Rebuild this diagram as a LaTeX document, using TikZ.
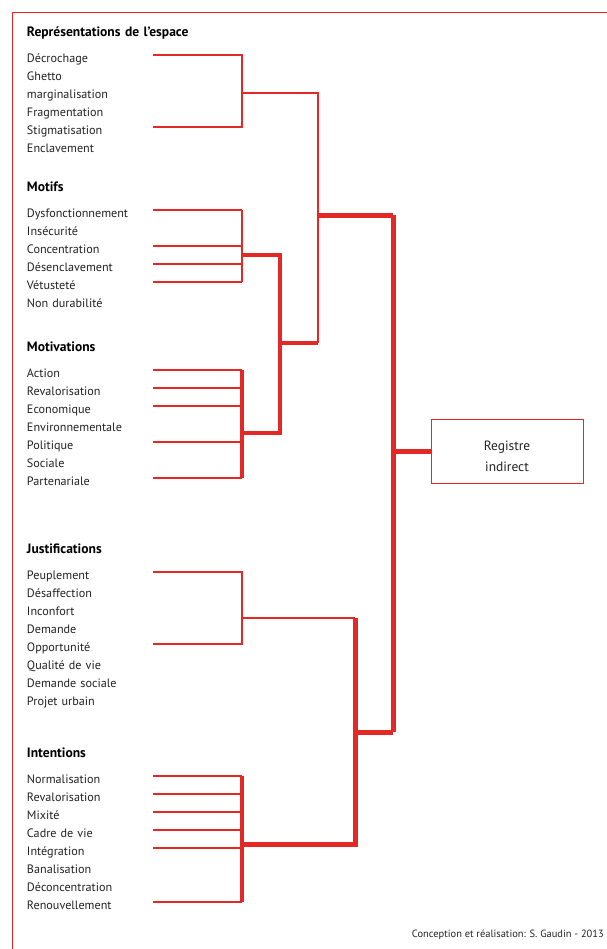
\documentclass[tikz,border=0pt]{standalone}
\usepackage{fontspec}
\setmainfont{PT Sans}
\usetikzlibrary{positioning}

\definecolor{regred}{RGB}{228,40,38}
\definecolor{txtgray}{RGB}{35,35,35}

\begin{document}
\begin{tikzpicture}[
            x=1bp, y=-1bp,
            on grid,
            node distance = 18bp,
            line join=miter,
            lead/.style={color=regred, line width=1.2bp},
            branch/.style={color=regred, line width=2.4bp},
            trunk/.style={color=regred, line width=3.4bp},
            mainline/.style={color=regred, line width=5bp}
        ]

        \tikzstyle{item}=[
            inner sep=0pt,
            text width=180bp,
            align=left,
            text height=14bp,
            text depth=0bp,
            text=txtgray,
            font=\fontsize{12.2}{14}\selectfont
        ]
        \tikzstyle{heading}=[
            item,
            text=black,
            font=\fontsize{13.6}{15}\selectfont\bfseries
        ]

        \fill[white] (0,0) rectangle (607,949);
        \useasboundingbox (0,0) rectangle (607,949);
        \draw[regred, line width=1bp] (12,949) -- (12,12) -- (607,12);

        % columns of the tree
        \coordinate (lx) at (153,0);
        \coordinate (fx) at (242,0);
        \coordinate (gx) at (280,0);
        \coordinate (hx) at (318,0);
        \coordinate (kx) at (355,0);
        \coordinate (mx) at (393,0);

        % Representations de l'espace
        \node[heading] (rep) at (117,29) {Représentations de l’espace};
        \node[item] (decr) [below=26bp of rep] {Décrochage};
        \node[item] (ghet) [below=of decr] {Ghetto};
        \node[item] (marg) [below=of ghet] {marginalisation};
        \node[item] (frag) [below=of marg] {Fragmentation};
        \node[item] (stig) [below=of frag] {Stigmatisation};
        \node[item] (encl) [below=of stig] {Enclavement};

        % Motifs
        \node[heading] (mot) [below=39bp of encl] {Motifs};
        \node[item] (dysf) [below=26bp of mot] {Dysfonctionnement};
        \node[item] (insec) [below=of dysf] {Insécurité};
        \node[item] (conc) [below=of insec] {Concentration};
        \node[item] (desen) [below=of conc] {Désenclavement};
        \node[item] (vetu) [below=of desen] {Vétusteté};
        \node[item] (nondur) [below=of vetu] {Non durabilité};

        % Motivations
        \node[heading] (motiv) [below=44bp of nondur] {Motivations};
        \node[item] (act) [below=26bp of motiv] {Action};
        \node[item] (reval) [below=of act] {Revalorisation};
        \node[item] (eco) [below=of reval] {Economique};
        \node[item] (env) [below=of eco] {Environnementale};
        \node[item] (pol) [below=of env] {Politique};
        \node[item] (soc) [below=of pol] {Sociale};
        \node[item] (part) [below=of soc] {Partenariale};

        % Justifications
        \node[heading] (just) [below=68bp of part] {Justifications};
        \node[item] (peup) [below=26bp of just] {Peuplement};
        \node[item] (desaf) [below=of peup] {Désaffection};
        \node[item] (incon) [below=of desaf] {Inconfort};
        \node[item] (dem) [below=of incon] {Demande};
        \node[item] (oppo) [below=of dem] {Opportunité};
        \node[item] (qual) [below=of oppo] {Qualité de vie};
        \node[item] (demsoc) [below=of qual] {Demande sociale};
        \node[item] (proj) [below=of demsoc] {Projet urbain};

        % Intentions
        \node[heading] (inten) [below=52bp of proj] {Intentions};
        \node[item] (norm) [below=26bp of inten] {Normalisation};
        \node[item] (revalb) [below=of norm] {Revalorisation};
        \node[item] (mix) [below=of revalb] {Mixité};
        \node[item] (cadre) [below=of mix] {Cadre de vie};
        \node[item] (integ) [below=of cadre] {Intégration};
        \node[item] (banal) [below=of integ] {Banalisation};
        \node[item] (decon) [below=of banal] {Déconcentration};
        \node[item] (renou) [below=of decon] {Renouvellement};

        % Registre indirect
        \node[draw=regred, line width=1bp, minimum width=152bp, minimum height=64bp,
              align=center, text=txtgray, text height=40.5bp, font=\fontsize{13.5}{21}\selectfont]
              (regind) at (507,451) {Registre\\indirect};

        \node[anchor=east, inner sep=0pt, text=txtgray, font=\fontsize{10.5}{12}\selectfont]
              (credit) at (604,935) {Conception et réalisation: S. Gaudin - 2013};

        % junctions
        \coordinate (jrep) at (242,93);
        \coordinate (jmot) at (242,255);
        \coordinate (jmotiv) at (242,433);
        \coordinate (jg) at (280,343);
        \coordinate (jh) at (318,215);
        \coordinate (jjust) at (242,618);
        \coordinate (jint) at (242,844);
        \coordinate (jk) at (355,732);
        \coordinate (jm) at (393,451);

        % leads
        \draw[lead] (decr -| lx) -- (decr -| fx) -- (stig -| fx) -- (stig -| lx);
        \draw[lead] (dysf -| lx) -- (dysf -| fx);
        \draw[lead] (conc -| lx) -- (conc -| fx);
        \draw[lead] (desen -| lx) -- (desen -| fx);
        \draw[lead] (vetu -| lx) -- (vetu -| fx);
        \draw[lead] (act -| lx) -- (act -| fx);
        \draw[lead] (reval -| lx) -- (reval -| fx);
        \draw[lead] (eco -| lx) -- (eco -| fx);
        \draw[lead] (pol -| lx) -- (pol -| fx);
        \draw[lead] (part -| lx) -- (part -| fx);
        \draw[lead] (peup -| lx) -- (peup -| fx) -- (oppo -| fx) -- (oppo -| lx);
        \draw[lead] (norm -| lx) -- (norm -| fx);
        \draw[lead] (revalb -| lx) -- (revalb -| fx);
        \draw[lead] (mix -| lx) -- (mix -| fx);
        \draw[lead] (cadre -| lx) -- (cadre -| fx);
        \draw[lead] (integ -| lx) -- (integ -| fx);
        \draw[lead] (renou -| lx) -- (renou -| fx);

        % forks
        \draw[branch] (dysf -| fx) -- (vetu -| fx);
        \draw[trunk] (act -| fx) -- (part -| fx);
        \draw[trunk] (norm -| fx) -- (renou -| fx);

        % upper tree
        \draw[branch] (jrep) -- (jrep -| hx) -- (jg -| hx);
        \draw[trunk] (jmot) -- (jmot -| gx) -- (jmotiv -| gx) -- (jmotiv);
        \draw[trunk] (jg) -- (jg -| hx);
        \draw[mainline] (jh) -- (jh -| mx);

        % lower tree
        \draw[branch] (jjust) -- (jjust -| kx);
        \draw[mainline] (jjust -| kx) -- (jint -| kx) -- (jint);
        \draw[mainline] (jk) -- (jk -| mx);

        % main trunk
        \draw[mainline] (jh -| mx) -- (jk -| mx);
        \draw[mainline] (jm) -- (regind);

    \end{tikzpicture}
\end{document}
